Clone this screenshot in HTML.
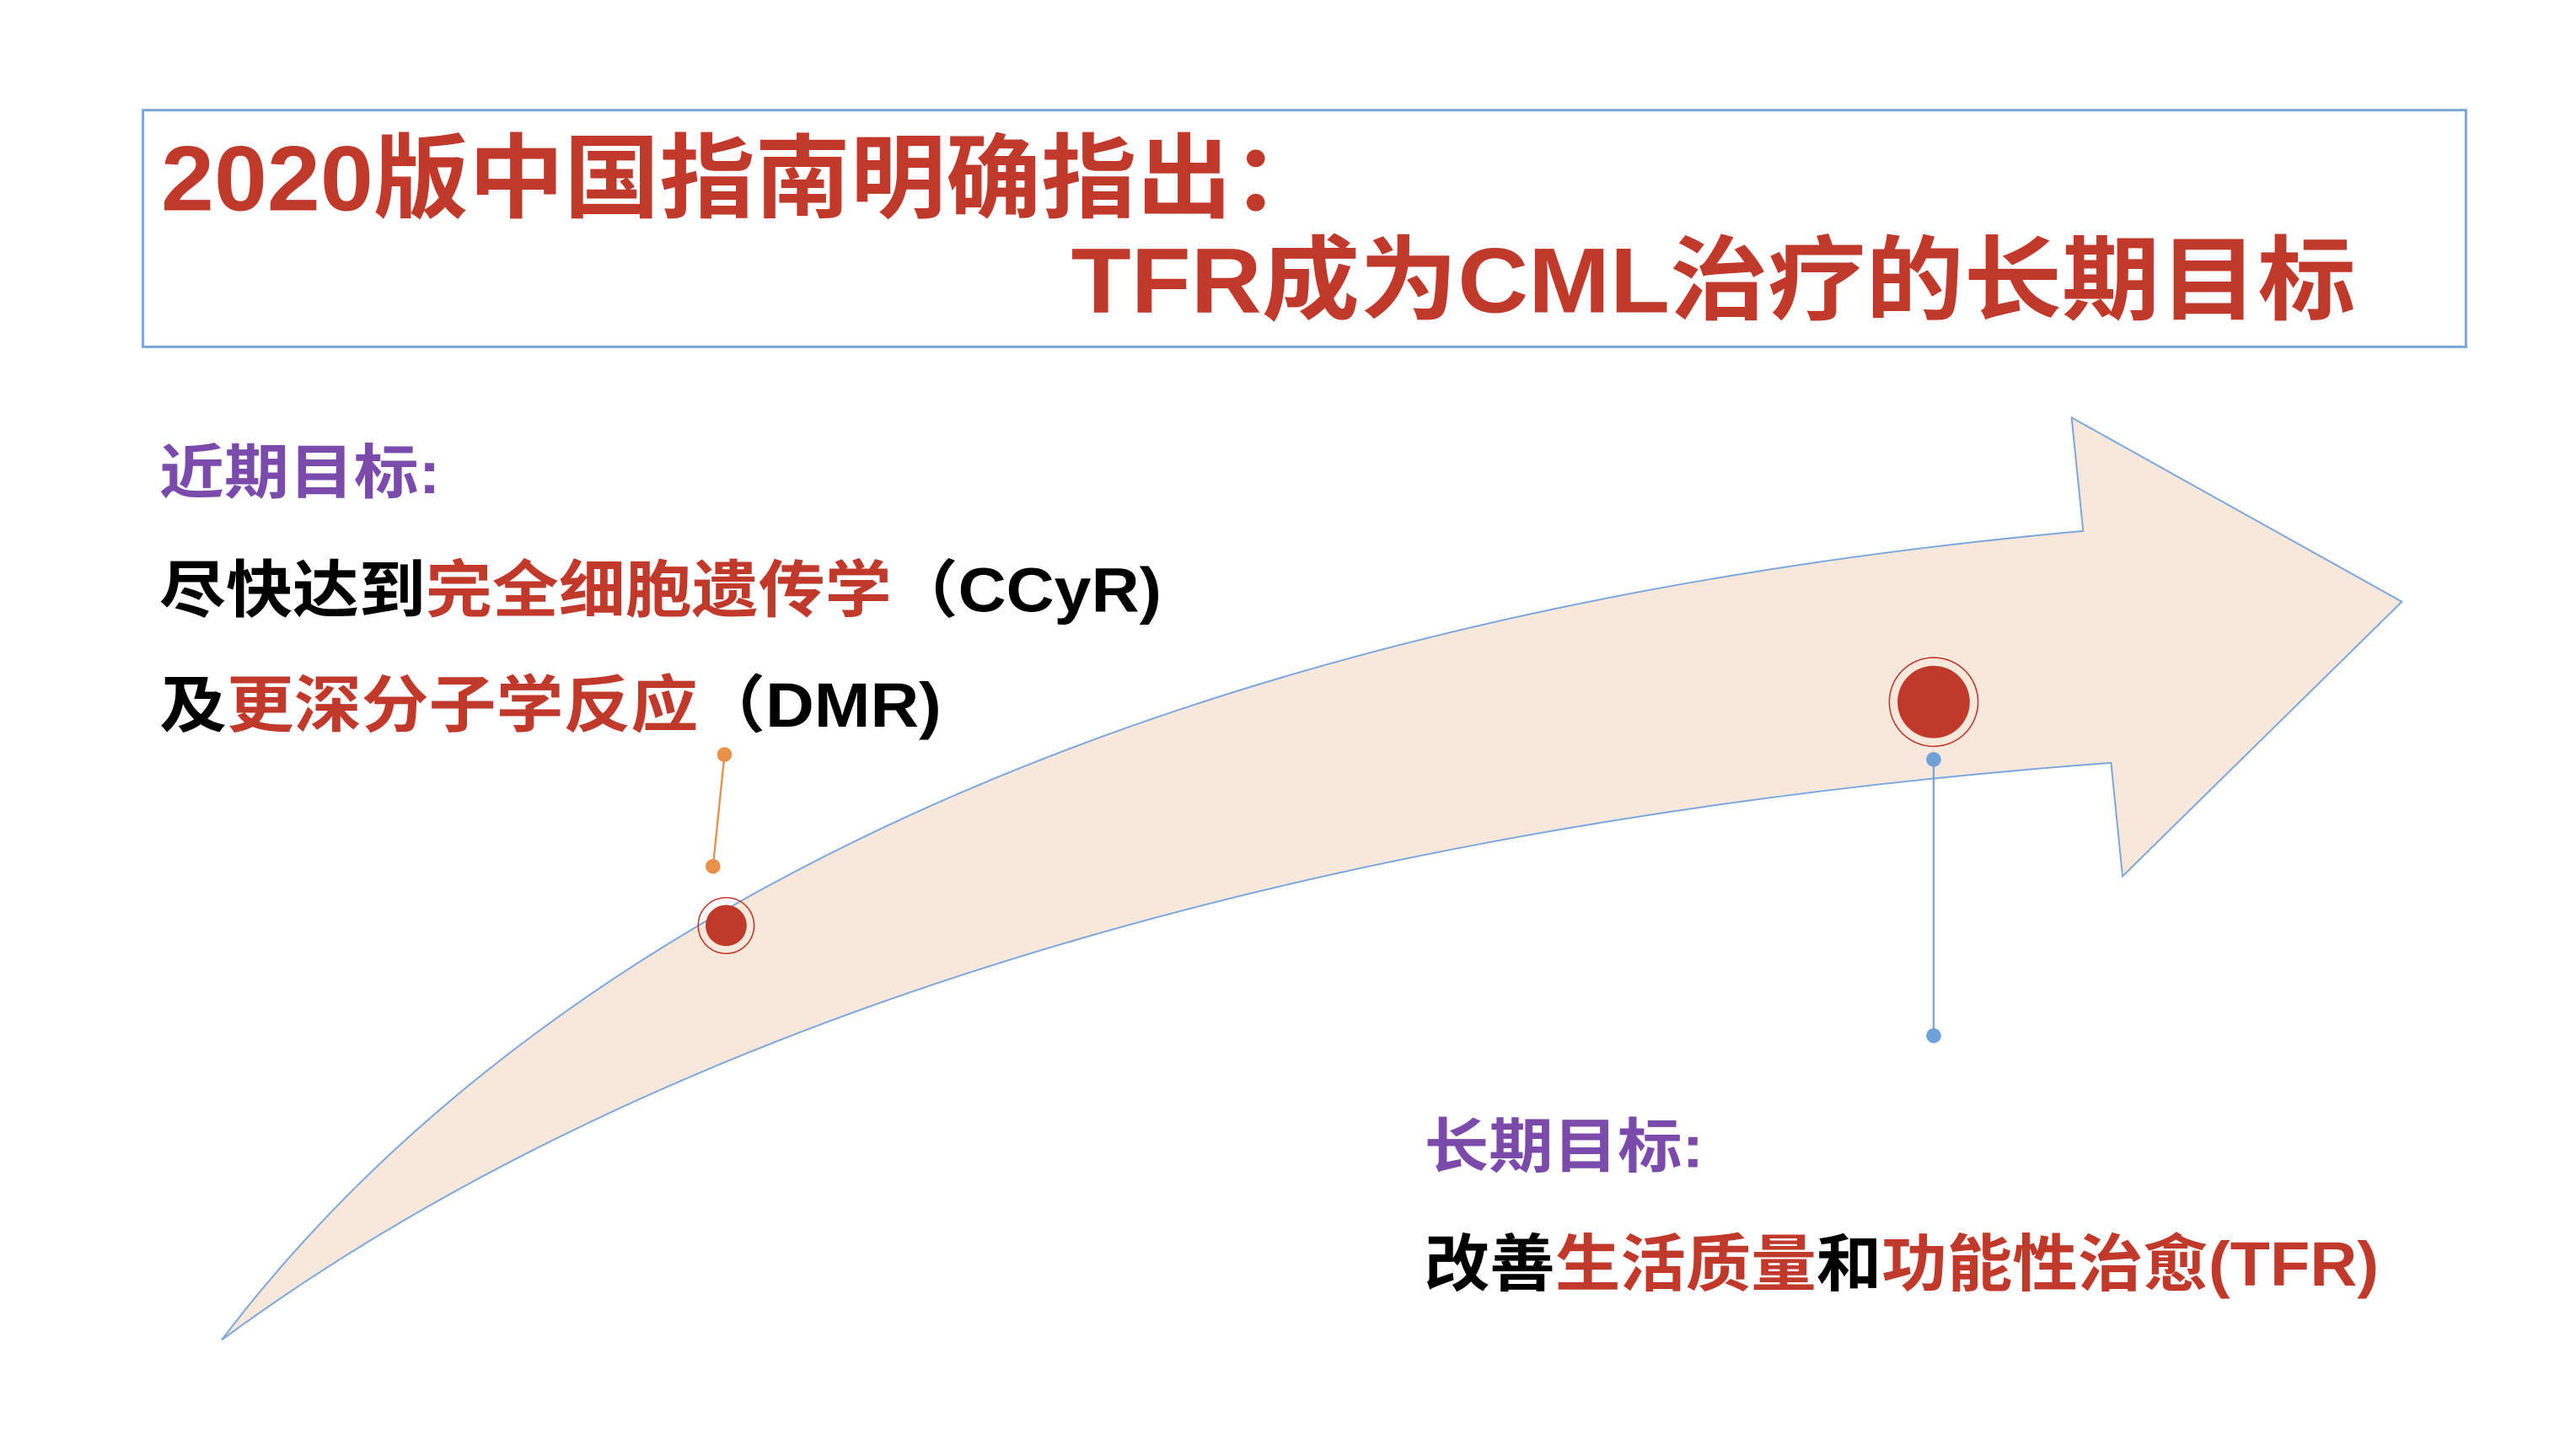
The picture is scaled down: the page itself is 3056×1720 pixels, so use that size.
<!DOCTYPE html>
<html><head><meta charset="utf-8"><style>
html,body{margin:0;padding:0;background:#fff;}
svg{display:block;}
text{font-family:"Liberation Sans","Noto Sans CJK SC",sans-serif;font-weight:bold;}
</style></head><body>
<svg width="3056" height="1720" viewBox="0 0 1568 882" preserveAspectRatio="none" xmlns="http://www.w3.org/2000/svg">
<rect x="0" y="0" width="1568" height="882" fill="#fff"/>
<rect x="87" y="67" width="1414" height="144" fill="none" stroke="#7aa6dc" stroke-width="1.5"/>
<text x="98" y="128" font-size="56" fill="#c0392b" textLength="710" lengthAdjust="spacingAndGlyphs">2020版中国指南明确指出：</text>
<text x="652" y="190" font-size="56" fill="#c0392b" textLength="782" lengthAdjust="spacingAndGlyphs">TFR成为CML治疗的长期目标</text>

<path d="M135,815 C245,670 530,390 1268,323 L1261,254 L1462,366 L1292,533 L1285,464 C800,500 400,620 135,815 Z" fill="#f8e8dc" stroke="#7aa6dc" stroke-width="1"/>

<text x="97" y="300" font-size="36" fill="#7b4bab" textLength="171" lengthAdjust="spacingAndGlyphs">近期目标:</text>
<text x="97" y="372" font-size="38" fill="#000" textLength="610" lengthAdjust="spacingAndGlyphs">尽快达到<tspan fill="#c0392b">完全细胞遗传学</tspan>（CCyR)</text>
<text x="97" y="442" font-size="38" fill="#000" textLength="476" lengthAdjust="spacingAndGlyphs">及<tspan fill="#c0392b">更深分子学反应</tspan>（DMR)</text>
<text x="867" y="710" font-size="36" fill="#7b4bab" textLength="170" lengthAdjust="spacingAndGlyphs">长期目标:</text>
<text x="867" y="782" font-size="38" fill="#000" textLength="581" lengthAdjust="spacingAndGlyphs">改善<tspan fill="#c0392b">生活质量</tspan>和<tspan fill="#c0392b">功能性治愈(TFR)</tspan></text>

<line x1="441" y1="459" x2="434" y2="527" stroke="#e8914a" stroke-width="1.2"/>
<circle cx="441" cy="459" r="4.5" fill="#e8914a"/>
<circle cx="434" cy="527" r="4.5" fill="#e8914a"/>
<circle cx="442" cy="563" r="17" fill="none" stroke="#c0392b" stroke-width="0.8"/>
<circle cx="442" cy="563" r="12.5" fill="#c0392b"/>

<line x1="1177" y1="462" x2="1177" y2="630" stroke="#7aa6dc" stroke-width="1.2"/>
<circle cx="1177" cy="462" r="4.5" fill="#6fa0d6"/>
<circle cx="1177" cy="630" r="4.5" fill="#6fa0d6"/>
<circle cx="1177" cy="427" r="27" fill="none" stroke="#c0392b" stroke-width="0.8"/>
<circle cx="1177" cy="427" r="22" fill="#c0392b"/>
</svg>
</body></html>
